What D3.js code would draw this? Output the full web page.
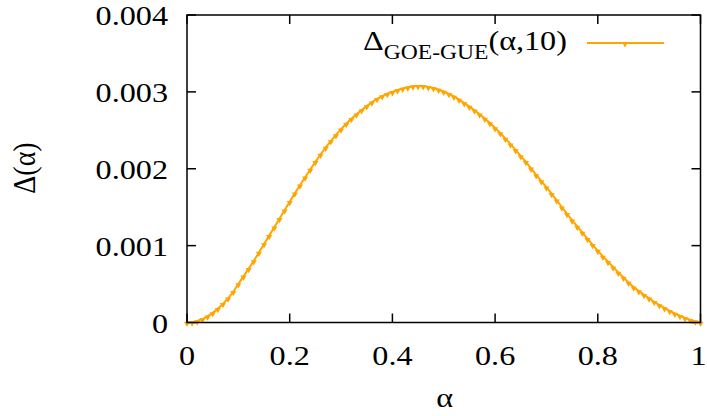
<!DOCTYPE html>
<html><head><meta charset="utf-8">
<script src="https://cdn.jsdelivr.net/npm/d3@7/dist/d3.min.js"></script>
</head><body style="margin:0">
<script>
const alphaStart = 0, alphaStep = 0.01;
const deltaValues = [
0.000,0.005,0.020,0.045,0.080,0.125,0.180,0.243,0.315,0.400,
0.500,0.600,0.700,0.800,0.910,1.020,1.130,1.240,1.350,1.460,
1.570,1.680,1.785,1.890,1.990,2.090,2.185,2.275,2.360,2.440,
2.515,2.585,2.650,2.710,2.765,2.815,2.865,2.910,2.945,2.975,
3.000,3.025,3.045,3.060,3.072,3.078,3.075,3.065,3.050,3.030,
3.005,2.975,2.940,2.900,2.855,2.810,2.760,2.710,2.655,2.595,
2.530,2.465,2.395,2.320,2.245,2.165,2.090,2.005,1.920,1.840,
1.760,1.675,1.590,1.500,1.415,1.330,1.250,1.170,1.090,1.010,
0.935,0.860,0.790,0.720,0.650,0.585,0.520,0.460,0.410,0.360,
0.315,0.270,0.228,0.190,0.152,0.118,0.088,0.060,0.035,0.015,0.000
].map(v => v * 1e-3);
const xTicks = [0, 0.2, 0.4, 0.6, 0.8, 1];
const xTickLabels = ["0", "0.2", "0.4", "0.6", "0.8", "1"];
const yTicks = [0, 0.001, 0.002, 0.003, 0.004];
const yTickLabels = ["0", "0.001", "0.002", "0.003", "0.004"];

const data = deltaValues.map((v, i) => ({a: alphaStart + i * alphaStep, v}));
const W = 707, H = 416;
const L = 187, R = 700.5, T = 15, B = 322.5;
const color = "#ffa500";
const fs = 28, sx = 1.15;
const FONT = '"Liberation Serif", Tinos, "Times New Roman", serif';

const svg = d3.select("body").append("svg").attr("width", W).attr("height", H);
const x = d3.scaleLinear().domain([0, 1]).range([L, R]);
const y = d3.scaleLinear().domain([0, 0.004]).range([B, T]);

function label(px, py, str, anchor, extra) {
  const t = svg.append("g").attr("transform", `translate(${px},${py}) scale(${sx},1)` + (extra || ""))
    .append("text").attr("x", 0).attr("y", 0).attr("text-anchor", anchor)
    .attr("font-family", FONT).style("font-family", FONT)
    .attr("font-size", fs).attr("fill", "#000");
  if (str !== null) t.text(str);
  return t;
}

const tl = 9;
const g = svg.append("g").attr("stroke", "#000").attr("stroke-width", 1.5);
xTicks.forEach(t => {
  g.append("line").attr("x1", x(t)).attr("x2", x(t)).attr("y1", B).attr("y2", B - tl);
  g.append("line").attr("x1", x(t)).attr("x2", x(t)).attr("y1", T).attr("y2", T + tl);
});
yTicks.forEach(t => {
  g.append("line").attr("x1", L).attr("x2", L + tl).attr("y1", y(t)).attr("y2", y(t));
  g.append("line").attr("x1", R).attr("x2", R - tl).attr("y1", y(t)).attr("y2", y(t));
});

xTicks.forEach((t, i) => label(i === xTicks.length - 1 ? x(t) - 2 : x(t), B + 42.5, xTickLabels[i], "middle"));
yTicks.forEach((t, i) => label(L - 19, y(t) + 10, yTickLabels[i], "end"));

label((L + R) / 2 + 1, 407, "α", "middle");
label(35, 168, "Δ(α)", "middle", " rotate(-90)");

const line = d3.line().x(d => x(d.a)).y(d => y(d.v));
svg.append("path").datum(data).attr("d", line).attr("fill", "none")
  .attr("stroke", color).attr("stroke-width", 2);
const tri = d3.symbol().type(d3.symbolTriangle).size(16);
svg.append("g").selectAll("path").data(data).join("path")
  .attr("d", tri).attr("fill", color)
  .attr("transform", d => `translate(${x(d.a)},${y(d.v) + 1}) rotate(180)`);

const lt = label(363, 50, null, "start");
lt.append("tspan").text("Δ");
lt.append("tspan").attr("font-size", 20.5).attr("dy", 9).text("GOE-GUE");
lt.append("tspan").attr("dy", -9).text("(α,10)");
svg.append("line").attr("x1", 587).attr("x2", 664).attr("y1", 43).attr("y2", 43)
  .attr("stroke", color).attr("stroke-width", 2);
svg.append("path").attr("d", tri).attr("fill", color)
  .attr("transform", `translate(625,44) rotate(180)`);

svg.append("rect").attr("x", L).attr("y", T).attr("width", R - L).attr("height", B - T)
  .attr("fill", "none").attr("stroke", "#000").attr("stroke-width", 1.5);
</script>
</body></html>
